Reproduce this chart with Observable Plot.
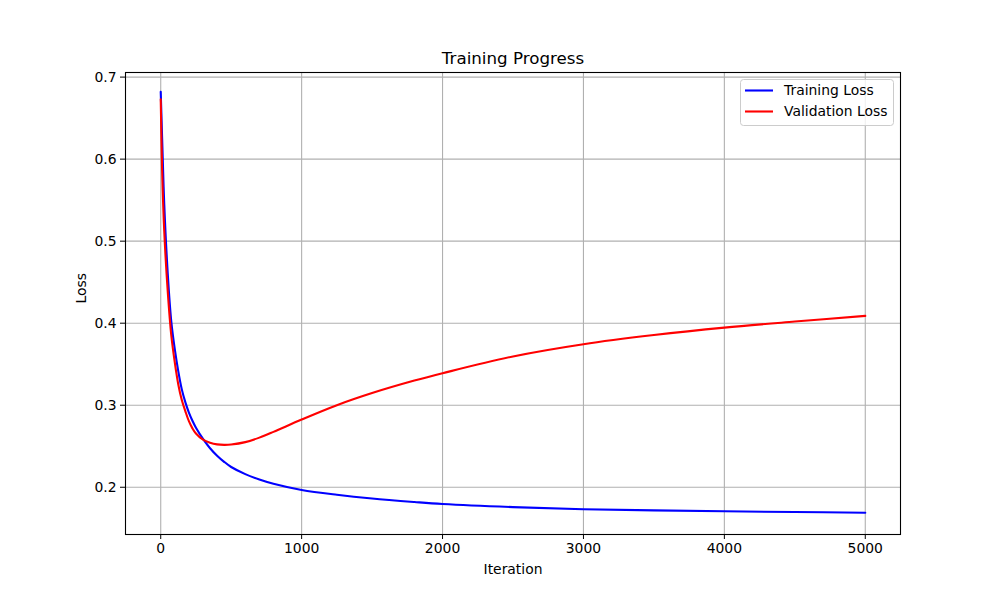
<!DOCTYPE html>
<html>
<head>
<meta charset="utf-8">
<script src="https://cdn.jsdelivr.net/npm/d3@7"></script>
<script src="https://cdn.jsdelivr.net/npm/@observablehq/plot@0.6"></script>
<style>
  html, body { margin: 0; padding: 0; background: #fff; }
  #chart { width: 1000px; height: 600px; }
</style>
</head>
<body>
<div id="chart"></div>
<script>
const title = "Training Progress";
const xLabel = "Iteration";
const yLabel = "Loss";
const seriesNames = ["Training Loss", "Validation Loss"];
const seriesColors = ["#0000ff", "#ff0000"];

const iterations = [0, 10, 25, 50, 75, 100, 125, 150, 175, 200, 225, 250, 300, 350, 400, 450, 500, 600, 700, 800, 1000, 1250, 1500, 1800, 2000, 2500, 3000, 3500, 4000, 4500, 5000];
const trainingLoss = [0.682, 0.625, 0.545, 0.460, 0.402, 0.368, 0.341, 0.319, 0.3035, 0.291, 0.281, 0.2725, 0.259, 0.2476, 0.2385, 0.231, 0.2247, 0.216, 0.2095, 0.2043, 0.1967, 0.1908, 0.1862, 0.182, 0.1796, 0.1758, 0.1732, 0.1718, 0.1707, 0.1698, 0.169];
const validationLoss = [0.673, 0.586, 0.512, 0.438, 0.385, 0.352, 0.325, 0.306, 0.2925, 0.2805, 0.2718, 0.2655, 0.258, 0.2543, 0.2523, 0.2517, 0.2521, 0.255, 0.2605, 0.2675, 0.2825, 0.300, 0.3148, 0.330, 0.339, 0.3595, 0.3744, 0.3855, 0.3946, 0.402, 0.4089];

const xTicks = [0, 1000, 2000, 3000, 4000, 5000];
const yTicks = [0.2, 0.3, 0.4, 0.5, 0.6, 0.7];

const rows = [];
iterations.forEach((it, i) => {
  rows.push({series: seriesNames[0], iter: it, loss: trainingLoss[i]});
  rows.push({series: seriesNames[1], iter: it, loss: validationLoss[i]});
});

const font = "DejaVu Sans, sans-serif";

const plot = Plot.plot({
  width: 1000,
  height: 600,
  marginLeft: 125,
  marginRight: 100,
  marginTop: 72,
  marginBottom: 66,
  style: {fontFamily: font, fontSize: "13.9px", background: "white", color: "black"},
  x: {domain: [-250, 5250], label: null},
  y: {domain: [0.1424, 0.7056], label: null},
  color: {domain: seriesNames, range: seriesColors},
  marks: [
    Plot.gridX(xTicks, {stroke: "#b0b0b0", strokeOpacity: 1, strokeWidth: 1.1}),
    Plot.gridY(yTicks, {stroke: "#b0b0b0", strokeOpacity: 1, strokeWidth: 1.1}),
    Plot.line(rows, {x: "iter", y: "loss", stroke: "series", z: "series", strokeWidth: 2.1, curve: "catmull-rom"}),
    Plot.frame({stroke: "black", strokeWidth: 1.1}),
    Plot.axisX(xTicks, {tickSize: 5, tickPadding: 4, tickFormat: "d", fontSize: 13.9, label: null, stroke: "black"}),
    Plot.axisY(yTicks, {tickSize: 5, tickPadding: 4, tickFormat: ".1f", fontSize: 13.9, label: null, stroke: "black"}),
    Plot.text([title], {frameAnchor: "top", dy: -14, lineAnchor: "middle", fontSize: 16.7, fill: "black"}),
    Plot.text([xLabel], {frameAnchor: "bottom", dy: 35, lineAnchor: "middle", fontSize: 13.9, fill: "black"}),
    Plot.text([yLabel], {frameAnchor: "left", dx: -44, rotate: -90, lineAnchor: "middle", fontSize: 13.9, fill: "black"})
  ]
});

document.getElementById("chart").appendChild(plot);

// Legend (upper right, inside axes)
const svg = d3.select(plot);
const lg = svg.append("g").attr("font-family", font).attr("font-size", "13.9px").attr("text-anchor", "start");
lg.append("rect")
  .attr("x", 740.5).attr("y", 79.5).attr("width", 153).attr("height", 46)
  .attr("rx", 3).attr("fill", "white").attr("fill-opacity", 0.8)
  .attr("stroke", "#cccccc").attr("stroke-width", 1);
seriesNames.forEach((name, i) => {
  const y = 90.5 + i * 21;
  lg.append("line").attr("x1", 745).attr("x2", 773).attr("y1", y).attr("y2", y)
    .attr("stroke", seriesColors[i]).attr("stroke-width", 2.1);
  lg.append("text").attr("x", 784).attr("y", y).attr("dy", "0.35em").attr("fill", "black").attr("text-anchor", "start").text(name);
});
</script>
</body>
</html>
